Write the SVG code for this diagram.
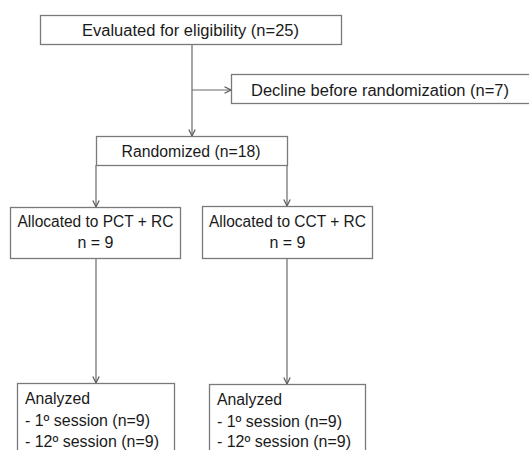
<svg xmlns="http://www.w3.org/2000/svg" width="529" height="450" viewBox="0 0 529 450">
<style>
.box{fill:#fff;stroke:#7a7a7a;stroke-width:1.3}
.t{font-family:"Liberation Sans",Arial,sans-serif;font-size:16px;fill:#1a1a1a}
.c{text-anchor:middle}
.ln{stroke:#6a6a6a;stroke-width:1.2;fill:none}
</style>
<defs>
<marker id="ah" viewBox="0 0 8 8" refX="7.5" refY="4" markerWidth="8" markerHeight="8" markerUnits="userSpaceOnUse" orient="auto">
<path d="M1,0.8 L7.5,4 L1,7.2" fill="none" stroke="#5a5a5a" stroke-width="1.2"/>
</marker>
</defs>
<rect width="529" height="450" fill="#fff"/>
<g id="connectors">
<path class="ln" d="M192,44 V136" marker-end="url(#ah)"/>
<path class="ln" d="M192,90 H231" marker-end="url(#ah)"/>
<path class="ln" d="M96,165 V207" marker-end="url(#ah)"/>
<path class="ln" d="M287,165 V206" marker-end="url(#ah)"/>
<path class="ln" d="M96,258 V383" marker-end="url(#ah)"/>
<path class="ln" d="M287,258 V384" marker-end="url(#ah)"/>
</g>
<g id="evaluated">
<rect class="box" x="40.5" y="15.5" width="301" height="29"/>
<text class="t c" x="190.5" y="35.5" textLength="217" lengthAdjust="spacingAndGlyphs">Evaluated for eligibility (n=25)</text>
</g>
<g id="decline">
<rect class="box" x="231.5" y="74.5" width="310" height="29"/>
<text class="t" x="251" y="95.5" textLength="258" lengthAdjust="spacingAndGlyphs">Decline before randomization (n=7)</text>
</g>
<g id="randomized">
<rect class="box" x="96.5" y="136.5" width="191" height="29"/>
<text class="t c" x="191" y="156.7" textLength="139" lengthAdjust="spacingAndGlyphs">Randomized (n=18)</text>
</g>
<g id="alloc-pct">
<rect class="box" x="10.5" y="207.5" width="170" height="51"/>
<text class="t c" x="95.5" y="226.5" textLength="156" lengthAdjust="spacingAndGlyphs">Allocated to PCT + RC</text>
<text class="t c" x="95.5" y="248.3" textLength="36" lengthAdjust="spacingAndGlyphs">n = 9</text>
</g>
<g id="alloc-cct">
<rect class="box" x="202.5" y="206.5" width="170" height="52"/>
<text class="t c" x="287.5" y="226.5" textLength="157" lengthAdjust="spacingAndGlyphs">Allocated to CCT + RC</text>
<text class="t c" x="287.5" y="248.3" textLength="36" lengthAdjust="spacingAndGlyphs">n = 9</text>
</g>
<g id="analyzed-pct">
<rect class="box" x="17.5" y="383.5" width="157" height="80"/>
<text class="t" x="25" y="404" textLength="65" lengthAdjust="spacingAndGlyphs">Analyzed</text>
<text class="t" x="25" y="426" textLength="125" lengthAdjust="spacingAndGlyphs">- 1º session (n=9)</text>
<text class="t" x="25" y="446.5" textLength="134" lengthAdjust="spacingAndGlyphs">- 12º session (n=9)</text>
</g>
<g id="analyzed-cct">
<rect class="box" x="209.5" y="384.5" width="156" height="80"/>
<text class="t" x="217" y="405" textLength="65" lengthAdjust="spacingAndGlyphs">Analyzed</text>
<text class="t" x="217" y="427" textLength="125" lengthAdjust="spacingAndGlyphs">- 1º session (n=9)</text>
<text class="t" x="217" y="446.5" textLength="134" lengthAdjust="spacingAndGlyphs">- 12º session (n=9)</text>
</g>
</svg>
